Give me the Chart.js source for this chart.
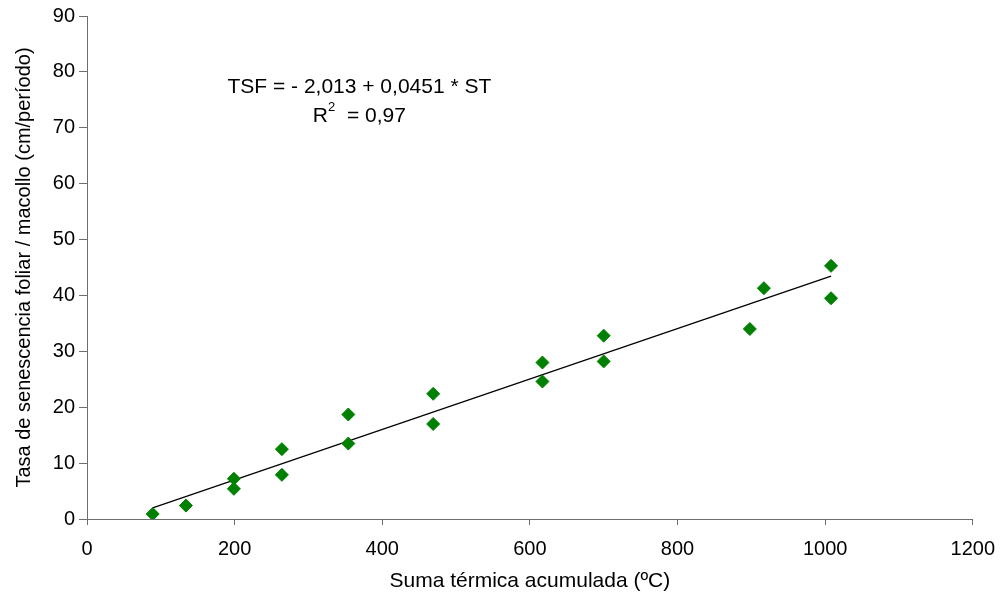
<!DOCTYPE html>
<html lang="es">
<head>
<meta charset="UTF-8">
<title>Tasa de senescencia foliar</title>
<script src="https://cdn.jsdelivr.net/npm/chart.js"></script>
<style>
    html, body { margin: 0; padding: 0; background: #fff; }
    #wrap { width: 1007px; height: 599px; }
</style>
</head>
<body>
<div id="wrap"><canvas id="grafico"></canvas></div>
<script>
    // suma térmica (ºC) y tasa de senescencia por macollo
    const sumaTermica = [89, 134, 199, 199, 264, 264, 354, 354, 469, 469, 617, 617, 700, 700, 898, 917, 1008, 1008];
    const tasaSenescencia = [0.9, 2.4, 7.2, 5.4, 12.5, 7.9, 18.7, 13.5, 22.4, 17.0, 28.0, 24.6, 32.8, 28.2, 34.0, 41.3, 45.3, 39.5];

    // recta ajustada TSF = a + b * ST
    const intercepto = -2.013;
    const pendiente = 0.0451;
    const r2 = 0.97;
    const rangoRecta = [89, 1008];

    const ejeX = { min: 0, max: 1200, paso: 200 };
    const ejeY = { min: 0, max: 90, paso: 10 };

    const puntos = sumaTermica.map((x, i) => ({ x: x, y: tasaSenescencia[i] }));
    const recta = rangoRecta.map(x => ({ x: x, y: intercepto + pendiente * x }));

    const fmt = n => n.toString().replace('.', ',');
    const fuente = 'Liberation Sans, Arial, sans-serif';
    const gris = '#6e6e6e';

    // texto de la ecuación sobre el área del gráfico
    const ecuacion = {
        id: 'ecuacion',
        afterDraw(chart) {
            const ctx = chart.ctx;
            const cx = chart.scales.x.getPixelForValue(369);
            const y1 = chart.scales.y.getPixelForValue(77.2);
            const y2 = chart.scales.y.getPixelForValue(72);
            ctx.save();
            ctx.fillStyle = '#000';
            ctx.textBaseline = 'middle';
            ctx.font = '21px ' + fuente;
            ctx.textAlign = 'center';
            ctx.fillText('TSF = - ' + fmt(Math.abs(intercepto).toFixed(3)) + ' + ' + fmt(pendiente) + ' * ST', cx, y1);

            // R² con el exponente elevado
            const parteR = 'R';
            const parteResto = '  = ' + fmt(r2);
            ctx.font = '21px ' + fuente;
            const wR = ctx.measureText(parteR).width;
            const wResto = ctx.measureText(parteResto).width;
            ctx.font = '13px ' + fuente;
            const wSup = ctx.measureText('2').width;
            const total = wR + wSup + wResto;
            let x0 = cx - total / 2;
            ctx.textAlign = 'left';
            ctx.font = '21px ' + fuente;
            ctx.fillText(parteR, x0, y2);
            ctx.font = '13px ' + fuente;
            ctx.fillText('2', x0 + wR, y2 - 9);
            ctx.font = '21px ' + fuente;
            ctx.fillText(parteResto, x0 + wR + wSup, y2);
            ctx.restore();
        }
    };

    new Chart(document.getElementById('grafico'), {
        type: 'scatter',
        data: {
            datasets: [
                {
                    label: 'Observado',
                    data: puntos,
                    pointStyle: 'rectRot',
                    pointRadius: 6.5,
                    pointHoverRadius: 6.5,
                    backgroundColor: '#008000',
                    borderColor: '#008000',
                    borderWidth: 1,
                    order: 1
                },
                {
                    label: 'Ajuste',
                    type: 'line',
                    data: recta,
                    borderColor: '#000',
                    borderWidth: 1.2,
                    pointRadius: 0,
                    fill: false,
                    order: 2
                }
            ]
        },
        options: {
            responsive: true,
            maintainAspectRatio: false,
            animation: false,
            layout: { padding: { top: 16, right: 33, left: 0, bottom: 0 } },
            plugins: {
                legend: { display: false },
                tooltip: { enabled: false }
            },
            scales: {
                x: {
                    type: 'linear',
                    min: ejeX.min,
                    max: ejeX.max,
                    afterFit: s => { s.height = 80; },
                    ticks: {
                        stepSize: ejeX.paso,
                        color: '#000',
                        font: { family: fuente, size: 20 },
                        padding: 12,
                        callback: v => String(v)
                    },
                    grid: { drawOnChartArea: false, drawTicks: true, tickLength: 6, color: gris },
                    border: { display: true, color: gris, width: 1 },
                    title: {
                        display: true,
                        text: 'Suma térmica acumulada (ºC)',
                        color: '#000',
                        font: { family: fuente, size: 21 },
                        padding: { top: 0, bottom: 5 }
                    }
                },
                y: {
                    min: ejeY.min,
                    max: ejeY.max,
                    afterFit: s => { s.width = 87; },
                    ticks: {
                        stepSize: ejeY.paso,
                        color: '#000',
                        font: { family: fuente, size: 20 },
                        padding: 4,
                        callback: v => String(v)
                    },
                    grid: { drawOnChartArea: false, drawTicks: true, tickLength: 8, color: gris },
                    border: { display: true, color: gris, width: 1 },
                    title: {
                        display: true,
                        text: 'Tasa de senescencia foliar / macollo (cm/período)',
                        color: '#000',
                        font: { family: fuente, size: 20 },
                        padding: { top: 12, bottom: 0 }
                    }
                }
            }
        },
        plugins: [ecuacion]
    });
</script>
</body>
</html>
